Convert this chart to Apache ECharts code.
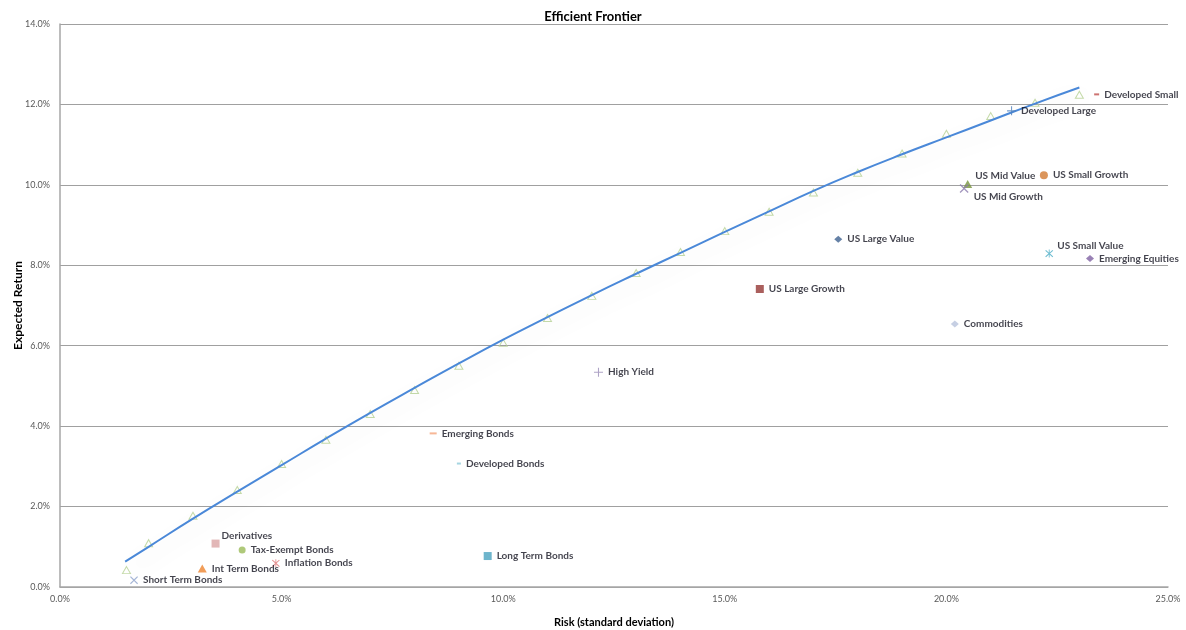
<!DOCTYPE html>
<html>
<head>
<meta charset="utf-8">
<title>Efficient Frontier</title>
<script src="https://cdn.jsdelivr.net/npm/echarts@6/dist/echarts.min.js"></script>
<style>
  html, body { margin: 0; padding: 0; background: #ffffff; }
  #chart { width: 1186px; height: 630px; }
</style>
</head>
<body>
<div id="chart"></div>
<script>
// Asset classes: risk (standard deviation, %) and expected return (%)
const assetNames = [
  'Short Term Bonds', 'Int Term Bonds', 'Derivatives', 'Tax-Exempt Bonds',
  'Inflation Bonds', 'Long Term Bonds', 'Emerging Bonds', 'Developed Bonds',
  'High Yield', 'US Large Growth', 'US Large Value', 'Commodities',
  'US Small Value', 'Emerging Equities', 'US Mid Value', 'US Mid Growth',
  'US Small Growth', 'Developed Large', 'Developed Small'
];
const assetRisk = [
  1.67, 3.21, 3.51, 4.11,
  4.87, 9.65, 8.42, 9.00,
  12.15, 15.79, 17.56, 20.19,
  22.32, 23.24, 20.48, 20.40,
  22.20, 21.47, 23.39
];
const assetReturn = [
  0.17, 0.46, 1.08, 0.92,
  0.59, 0.77, 3.82, 3.07,
  5.34, 7.41, 8.65, 6.54,
  8.29, 8.17, 10.02, 9.91,
  10.24, 11.84, 12.25
];

// Optimised portfolios along the frontier
const frontierRisk = [1.5, 2, 3, 4, 5, 6, 7, 8, 9, 10, 11, 12, 13, 14, 15, 16, 17, 18, 19, 20, 21, 22, 23];
const frontierReturn = [0.42, 1.09, 1.77, 2.41, 3.06, 3.66, 4.30, 4.90, 5.50, 6.07, 6.69, 7.24, 7.81, 8.33, 8.85, 9.33, 9.81, 10.30, 10.78, 11.27, 11.71, 12.04, 12.24];

// Fitted frontier curve
const curveRisk = [1.47, 2, 3, 4, 5, 6, 7, 8, 9, 10, 11, 12, 13, 14, 15, 16, 17, 18, 19, 20, 21, 22, 23];
const curveReturn = [0.63, 1.00, 1.70, 2.37, 3.03, 3.69, 4.33, 4.95, 5.56, 6.15, 6.71, 7.26, 7.79, 8.31, 8.83, 9.34, 9.85, 10.32, 10.76, 11.18, 11.60, 12.02, 12.42];

const yTicks = [0, 2, 4, 6, 8, 10, 12, 14];
const xTicks = [0, 5, 10, 15, 20, 25];

// Marker shapes
const SYM_X = 'path://M0,1L1,0L5,4L9,0L10,1L6,5L10,9L9,10L5,6L1,10L0,9L4,5Z';
const SYM_PLUS = 'path://M4.4,0H5.6V4.4H10V5.6H5.6V10H4.4V5.6H0V4.4H4.4Z';
const SYM_STAR = 'path://M0,1.5L1,0.5L5,4.5L9,0.5L10,1.5L6,5.5L10,9.5L9,10.5L5,6.5L1,10.5L0,9.5L4,5.5Z M4.45,0H5.55V11H4.45Z';

const markerStyle = {
  'Short Term Bonds':  { symbol: SYM_X, size: 8, color: '#8fa2cc' },
  'Int Term Bonds':    { symbol: 'triangle', size: [9, 8], color: '#ee8530' },
  'Derivatives':       { symbol: 'rect', size: 8, color: '#dba5a5' },
  'Tax-Exempt Bonds':  { symbol: 'circle', size: 7, color: '#9bbb59' },
  'Inflation Bonds':   { symbol: SYM_STAR, size: [8, 8], color: '#e07a7a' },
  'Long Term Bonds':   { symbol: 'rect', size: 8, color: '#4aa3bf' },
  'Emerging Bonds':    { symbol: 'rect', size: [7, 2], color: '#f5a57c' },
  'Developed Bonds':   { symbol: 'rect', size: [4, 2], color: '#8ecad9' },
  'High Yield':        { symbol: SYM_PLUS, size: 9, color: '#9a8cb8' },
  'US Large Growth':   { symbol: 'rect', size: 8, color: '#953735' },
  'US Large Value':    { symbol: 'diamond', size: [8, 7], color: '#3f6190' },
  'Commodities':       { symbol: 'diamond', size: [8, 7], color: '#b8c3dc' },
  'US Small Value':    { symbol: SYM_STAR, size: [8, 8], color: '#4bacc6' },
  'Emerging Equities': { symbol: 'diamond', size: [8, 7], color: '#7f62a2' },
  'US Mid Value':      { symbol: 'triangle', size: [9, 8], color: '#77933c' },
  'US Mid Growth':     { symbol: SYM_X, size: 9, color: '#8c7cae' },
  'US Small Growth':   { symbol: 'circle', size: 8, color: '#d27a32' },
  'Developed Large':   { symbol: SYM_PLUS, size: 9, color: '#4f81bd' },
  'Developed Small':   { symbol: 'rect', size: [5, 2], color: '#c0504d' }
};

// Label nudges for crowded points
const labelNudge = {
  'Derivatives':    [-3, -8],
  'US Small Value': [-1, -8],
  'US Mid Value':   [-2, -8],
  'US Mid Growth':  [0, 8]
};

const FONT = 'Lato, "Open Sans", sans-serif';

const assetData = assetNames.map(function (name, i) {
  const st = markerStyle[name];
  return {
    name: name,
    value: [assetRisk[i], assetReturn[i]],
    symbol: st.symbol,
    symbolSize: st.size,
    itemStyle: { color: st.color },
    label: {
      show: true,
      position: 'right',
      distance: 5,
      offset: labelNudge[name] || [0, 0],
      formatter: name
    }
  };
});

const frontierData = frontierRisk.map(function (x, i) { return [x, frontierReturn[i]]; });
const curveData = curveRisk.map(function (x, i) { return [x, curveReturn[i]]; });

const chart = echarts.init(document.getElementById('chart'), null, { renderer: 'canvas' });

const pct = function (v) { return v.toFixed(1) + '%'; };

chart.setOption({
  animation: false,
  backgroundColor: '#ffffff',
  title: {
    text: 'Efficient Frontier',
    left: 'center',
    top: 5,
    textStyle: { fontFamily: FONT, fontWeight: 'bold', fontSize: 13, color: '#000000' }
  },
  grid: { left: 60, right: 18, top: 24, bottom: 43, containLabel: false, outerBoundsMode: 'none' },
  xAxis: {
    type: 'value',
    min: xTicks[0],
    max: xTicks[xTicks.length - 1],
    interval: 5,
    name: 'Risk (standard deviation)',
    nameLocation: 'middle',
    nameGap: 30,
    nameMoveOverlap: false,
    nameTextStyle: { fontFamily: FONT, fontWeight: 'bold', fontSize: 11, color: '#000000' },
    axisLine: { show: true, lineStyle: { color: '#a6a6a6', width: 1.5 } },
    axisTick: { show: false },
    splitLine: { show: false },
    axisLabel: { formatter: pct, fontFamily: FONT, fontSize: 9, color: '#595959', margin: 8 }
  },
  yAxis: {
    type: 'value',
    min: yTicks[0],
    max: yTicks[yTicks.length - 1],
    interval: 2,
    name: 'Expected Return',
    nameLocation: 'middle',
    nameGap: 36,
    nameMoveOverlap: false,
    nameTextStyle: { fontFamily: FONT, fontWeight: 'bold', fontSize: 12, color: '#000000' },
    axisLine: { show: true, lineStyle: { color: '#a6a6a6', width: 1.5 } },
    axisTick: { show: false },
    splitLine: { show: true, lineStyle: { color: '#a0a0a0', width: 1 } },
    axisLabel: { formatter: pct, fontFamily: FONT, fontSize: 9, color: '#595959', margin: 10 }
  },
  series: [
    {
      name: 'Frontier portfolios',
      type: 'scatter',
      data: frontierData,
      symbol: 'triangle',
      symbolSize: [8, 7],
      z: 2,
      itemStyle: { color: 'rgba(255,255,255,0)', borderColor: '#b7d295', borderWidth: 1 }
    },
    {
      name: 'Efficient frontier',
      type: 'line',
      data: curveData,
      smooth: true,
      showSymbol: false,
      z: 3,
      lineStyle: {
        color: '#4a88d8',
        width: 2,
        shadowColor: 'rgba(0,0,0,0.13)',
        shadowBlur: 22,
        shadowOffsetX: 5,
        shadowOffsetY: 8
      }
    },
    {
      name: 'Asset classes',
      type: 'scatter',
      data: assetData,
      z: 4,
      label: {
        fontFamily: FONT,
        fontWeight: 'bold',
        fontSize: 10,
        color: '#141420'
      }
    }
  ]
});
</script>
</body>
</html>
